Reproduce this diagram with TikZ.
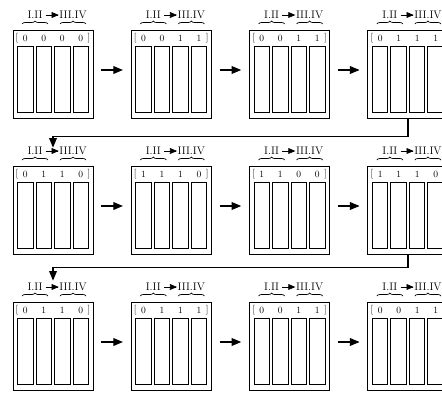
\documentclass[tikz,border=0pt]{standalone}
\usepackage{tikz}
\usetikzlibrary{arrows, positioning, decorations.pathreplacing, calc}

\begin{document}
\begin{tikzpicture}[
    x=1pt, y=1pt,
    reg/.style={rectangle, draw, line width=0.9pt, minimum width=80pt, minimum height=88pt, inner sep=0pt},
    cell/.style={rectangle, draw, line width=0.9pt, minimum width=15.5pt, minimum height=66pt, inner sep=0pt},
    bit/.style={inner sep=0pt, font=\fontsize{9.5}{11}\selectfont},
    half/.style={inner sep=0pt, font=\fontsize{11}{13}\selectfont},
    pair/.style={decorate, decoration={brace, amplitude=3pt}, line width=0.7pt},
    arrow/.style={-triangle 45, line width=1.2pt},
    swap/.style={-triangle 45, line width=0.6pt, shorten <=3pt, shorten >=0.5pt}
]
    \useasboundingbox (0,0) rectangle (442,392);
    \clip (0,0) rectangle (442,392);

    % Registers, four per row
    \foreach \bits [count=\n from 0] in {{0,0,0,0},{0,0,1,1},{0,0,1,1},{0,1,1,1},
                                         {0,1,1,0},{1,1,1,0},{1,1,0,0},{1,1,1,0},
                                         {0,1,1,0},{0,1,1,1},{0,0,1,1},{0,0,1,1}} {
        \pgfmathtruncatemacro{\col}{mod(\n,4)}
        \pgfmathtruncatemacro{\row}{\n/4}
        \node[reg] (r\n) at (53+118.3*\col, 318-136*\row) {};
        % cells and their bits
        \foreach \b [count=\k] in \bits {
            \node[cell] (r\n-\k) at ($(r\n)+(-46.25+18.5*\k,-5)$) {};
            \node[bit] at ($(r\n)+(-46.25+18.5*\k,36)$) {\b};
        }
        \node[bit] at ($(r\n)+(-36,36)$) {[};
        \node[bit] at ($(r\n)+(36,36)$) {]};
        % halves
        \draw[pair] ($(r\n)+(-31,50)$) -- ($(r\n)+(-5,50)$);
        \draw[pair] ($(r\n)+(7,50)$) -- ($(r\n)+(33,50)$);
        \node[half] (lo\n) at ($(r\n)+(-18,59)$) {I.II};
        \node[half] (hi\n) at ($(r\n)+(20,59)$) {III.IV};
        \draw[swap] (lo\n.east) -- (hi\n.west);
    }

    % Steps
    \foreach \a/\b in {0/1,1/2,2/3,4/5,5/6,6/7,8/9,9/10,10/11}
        \draw[arrow, shorten <=8pt, shorten >=8pt] ([yshift=4pt]r\a.east) -- ([yshift=4pt]r\b.west);

    % Next row
    \draw[arrow] (r3.south) -- ++(0,-18) -| ($(r4.north)+(0,18)$);
    \draw[arrow] (r7.south) -- ++(0,-13) -| ($(r8.north)+(0,21)$);
\end{tikzpicture}
\end{document}
